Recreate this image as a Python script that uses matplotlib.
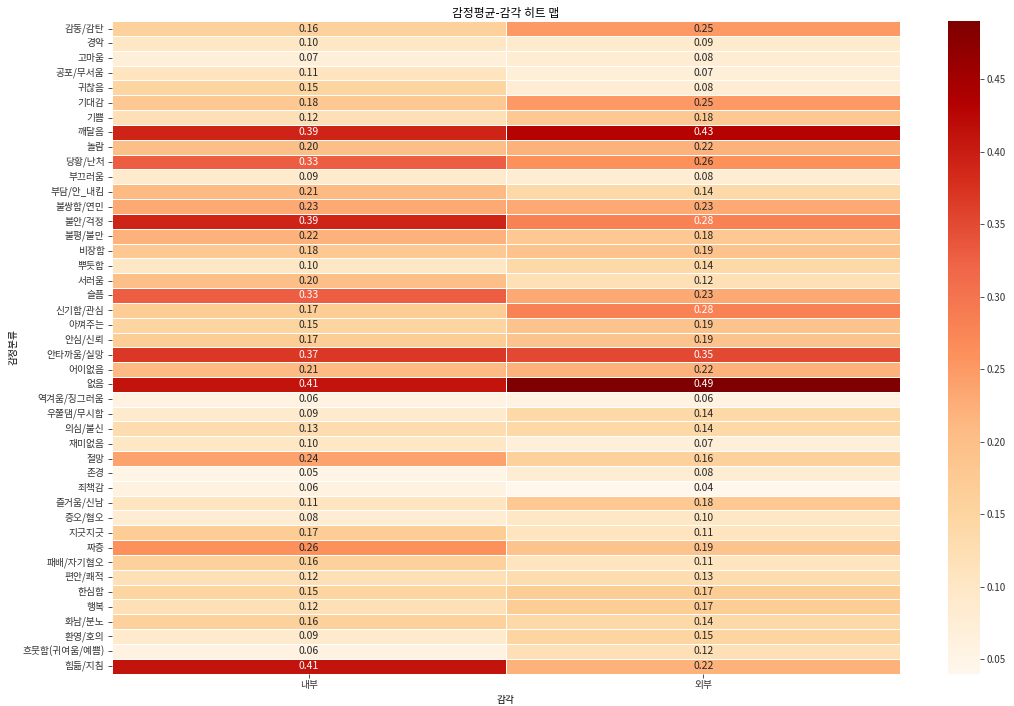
import matplotlib
matplotlib.use("Agg")
import matplotlib.pyplot as plt
import seaborn as sns
import pandas as pd

plt.rcParams['font.family'] = ['Noto Sans CJK KR', 'DejaVu Sans']
plt.rcParams['axes.unicode_minus'] = False

emotions = ["감동/감탄", "경악", "고마움", "공포/무서움", "귀찮음", "기대감", "기쁨", "깨달음",
            "놀람", "당황/난처", "부끄러움", "부담/안_내킴", "불쌍함/연민", "불안/걱정", "불평/불만",
            "비장함", "뿌듯함", "서러움", "슬픔", "신기함/관심", "아껴주는", "안심/신뢰",
            "안타까움/실망", "어이없음", "없음", "역겨움/징그러움", "우쭐댐/무시함", "의심/불신",
            "재미없음", "절망", "존경", "죄책감", "즐거움/신남", "증오/혐오", "지긋지긋", "짜증",
            "패배/자기혐오", "편안/쾌적", "한심함", "행복", "화남/분노", "환영/호의",
            "흐뭇함(귀여움/예쁨)", "힘듦/지침"]
senses = ["내부", "외부"]

inner = [0.16, 0.10, 0.07, 0.11, 0.15, 0.18, 0.12, 0.39, 0.20, 0.33, 0.09, 0.21, 0.23, 0.39,
         0.22, 0.18, 0.10, 0.20, 0.33, 0.17, 0.15, 0.17, 0.37, 0.21, 0.41, 0.06, 0.09, 0.13,
         0.10, 0.24, 0.05, 0.06, 0.11, 0.08, 0.17, 0.26, 0.16, 0.12, 0.15, 0.12, 0.16, 0.09,
         0.06, 0.41]
outer = [0.25, 0.09, 0.08, 0.07, 0.08, 0.25, 0.18, 0.43, 0.22, 0.26, 0.08, 0.14, 0.23, 0.28,
         0.18, 0.19, 0.14, 0.12, 0.23, 0.28, 0.19, 0.19, 0.35, 0.22, 0.49, 0.06, 0.14, 0.14,
         0.07, 0.16, 0.08, 0.04, 0.18, 0.10, 0.11, 0.19, 0.11, 0.13, 0.17, 0.17, 0.14, 0.15,
         0.12, 0.22]

df = pd.DataFrame({"내부": inner, "외부": outer}, index=emotions)
df.index.name = "감정분류"
df.columns.name = "감각"

fig = plt.figure(figsize=(10.14, 7.06), dpi=100)
ax = fig.add_axes([0.110, 0.046, 0.778, 0.924])
cax = fig.add_axes([0.935, 0.046, 0.031, 0.924])

sns.heatmap(df, ax=ax, cbar_ax=cax, cmap="OrRd", annot=True, fmt=".2f",
            linewidths=0.5, linecolor="white",
            annot_kws={"fontsize": 7.5})

ax.set_title("감정평균-감각 히트 맵", fontsize=8.5, pad=3)
ax.set_xlabel("감각", fontsize=7, labelpad=3)
ax.set_ylabel("감정분류", fontsize=7, labelpad=3)
ax.tick_params(axis="both", labelsize=7, length=3, width=0.6, colors="#333333", pad=2)
ax.set_yticklabels(emotions, rotation=0)
ax.set_xticklabels(senses, rotation=0)
cax.tick_params(labelsize=7, length=3, width=0.6, colors="#333333", pad=2)
cax.set_frame_on(False)

fig.savefig("out.png", dpi=100)
